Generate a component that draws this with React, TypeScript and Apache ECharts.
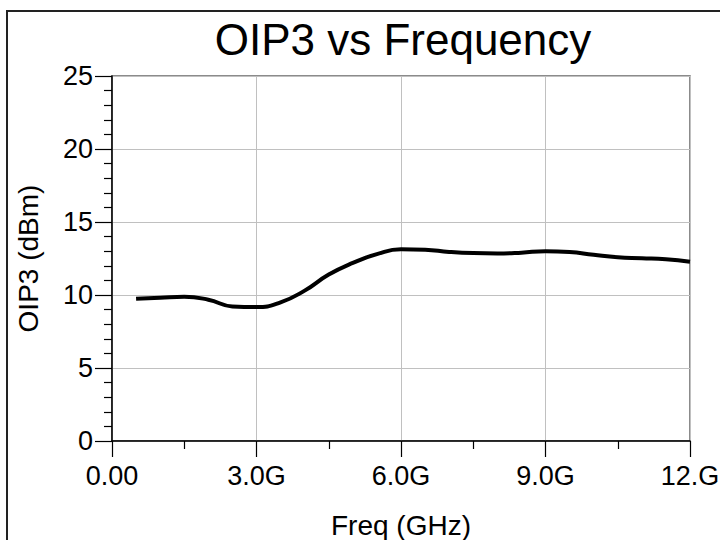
import React, { useEffect, useRef } from "react";
import * as echarts from "echarts";

const freqGHz = [0.5, 1.0, 1.5, 2.0, 2.5, 3.0, 3.5, 4.0, 4.5, 5.0, 5.5, 6.0, 6.5, 7.0, 7.5, 8.0, 8.5, 9.0, 9.5, 10.0, 10.5, 11.0, 11.5, 12.0];
const oip3 = [9.75, 9.82, 9.88, 9.68, 9.22, 9.17, 9.5, 10.3, 11.4, 12.2, 12.8, 13.13, 13.1, 12.95, 12.87, 12.85, 12.9, 13.0, 12.95, 12.75, 12.58, 12.52, 12.45, 12.28];
const xTickLabels: Record<string, string> = { "0": "0.00", "3": "3.0G", "6": "6.0G", "9": "9.0G", "12": "12.G" };

const FONT = "Liberation Sans, Arial, sans-serif";

export default function App() {
  const ref = useRef<HTMLDivElement>(null);
  useEffect(() => {
    if (!ref.current) return;
    const chart = echarts.init(ref.current, undefined, { renderer: "svg" });
    chart.setOption({
      animation: false,
      backgroundColor: "#ffffff",
      title: {
        text: "OIP3 vs Frequency",
        left: 398,
        top: 12,
        textAlign: "center",
        textStyle: { fontFamily: FONT, fontSize: 44, fontWeight: "normal", color: "#000" },
      },
      graphic: [
        {
          type: "rect",
          shape: { x: 7, y: 11, width: 730, height: 560 },
          style: { fill: "none", stroke: "#222", lineWidth: 2 },
          silent: true,
        },
      ],
      grid: {
        left: 112,
        right: 30,
        top: 76,
        bottom: 99,
        show: true,
        containLabel: false,
        outerBoundsMode: "none",
        borderColor: "#666",
        borderWidth: 1.5,
        backgroundColor: "transparent",
      },
      xAxis: {
        type: "value",
        min: 0,
        max: 12,
        interval: 3,
        name: "Freq (GHz)",
        nameLocation: "middle",
        nameGap: 70,
        nameTextStyle: { fontFamily: FONT, fontSize: 28, color: "#000" },
        axisLine: { show: true, onZero: false, lineStyle: { color: "#000", width: 1.5 } },
        axisTick: { show: true, inside: false, length: 16, lineStyle: { color: "#000", width: 1.2 } },
        minorTick: { show: true, splitNumber: 2, length: 8, lineStyle: { color: "#000", width: 1.2 } },
        axisLabel: {
          fontFamily: FONT,
          fontSize: 27,
          color: "#000",
          margin: 21,
          formatter: (v: number) => xTickLabels[String(v)] ?? String(v),
        },
        splitLine: { show: true, lineStyle: { color: "#c0c0c0", width: 1 } },
      },
      yAxis: {
        type: "value",
        min: 0,
        max: 25,
        interval: 5,
        name: "OIP3 (dBm)",
        nameLocation: "middle",
        nameGap: 70,
        nameTextStyle: { fontFamily: FONT, fontSize: 28, color: "#000" },
        axisLine: { show: true, onZero: false, lineStyle: { color: "#000", width: 1.5 } },
        axisTick: { show: true, inside: false, length: 17, lineStyle: { color: "#000", width: 1.2 } },
        minorTick: { show: true, splitNumber: 5, length: 8, lineStyle: { color: "#000", width: 1.2 } },
        axisLabel: { fontFamily: FONT, fontSize: 27, color: "#000", margin: 19 },
        splitLine: { show: true, lineStyle: { color: "#c0c0c0", width: 1 } },
      },
      series: [
        {
          type: "line",
          data: freqGHz.map((f, i) => [f, oip3[i]]),
          smooth: 0.5,
          showSymbol: false,
          lineStyle: { color: "#000", width: 4 },
          clip: true,
        },
      ],
    });
    return () => chart.dispose();
  }, []);
  return (
    <div
      ref={ref}
      style={{ position: "fixed", left: 0, top: 0, width: 720, height: 540, background: "#fff" }}
    />
  );
}
